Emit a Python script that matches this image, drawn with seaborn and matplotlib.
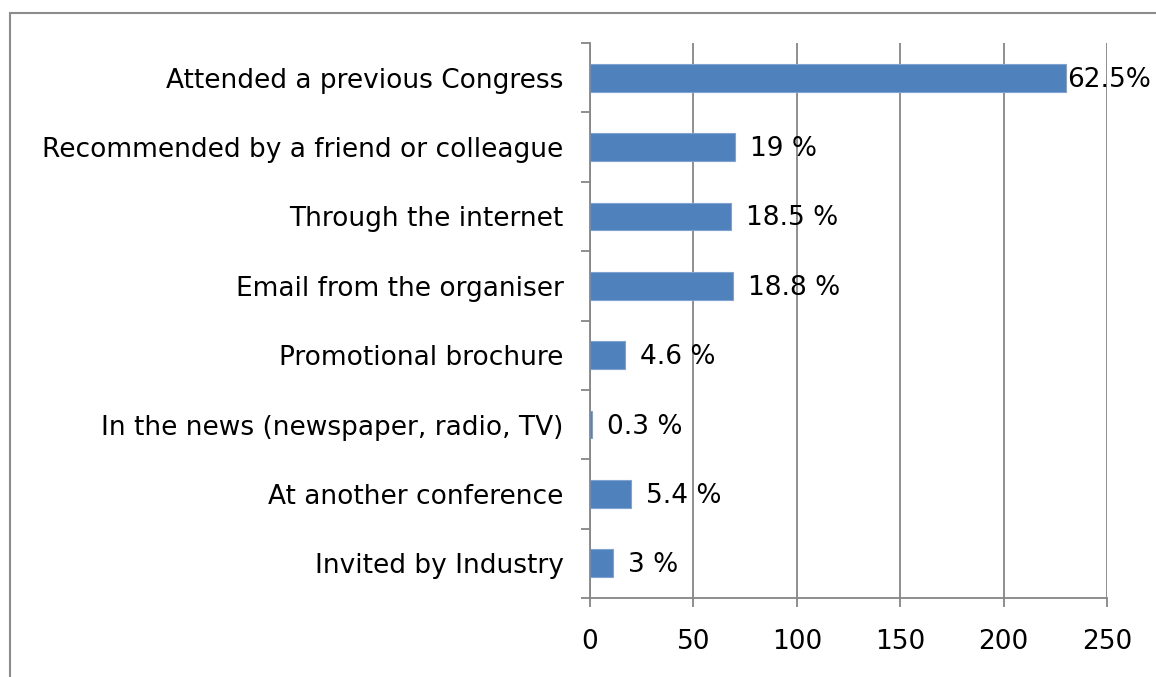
import numpy as np
import pandas as pd
import matplotlib.pyplot as plt
import matplotlib.patches as patches
import seaborn as sb

categorias = ["Attended a previous Congress",
              "Recommended by a friend or colleague",
              "Through the internet",
              "Email from the organiser",
              "Promotional brochure",
              "In the news (newspaper, radio, TV)",
              "At another conference",
              "Invited by Industry"]
valores = [230, 70, 68, 69, 17, 1, 20, 11]
etiquetas = ["62.5%", "19 %", "18.5 %", "18.8 %", "4.6 %", "0.3 %", "5.4 %", "3 %"]
ticks_x = [0, 50, 100, 150, 200, 250]

df = pd.DataFrame({"Origen": categorias, "Respuestas": valores})

sb.set_theme(style="white")
plt.rcParams['font.family'] = ['DejaVu Sans']

gris = "#868686"
fs = 19
fig = plt.figure(figsize=(11.56, 6.77), dpi=100)
ax = fig.add_axes([590/1156, 1 - 598/677, (1107 - 590)/1156, (598 - 43)/677])

sb.barplot(data=df, x="Respuestas", y="Origen", orient="h", width=0.4,
           color="#4F81BD", edgecolor="#7FA3D0", linewidth=0.8, saturation=1, ax=ax)

# etiquetas de datos (la primera va pegada a la barra, como en el original)
for i, (v, txt) in enumerate(zip(valores, etiquetas)):
    dx = 1 if i == 0 else 15
    ax.annotate(txt, (v, i), xytext=(dx, -2), textcoords="offset pixels",
                ha="left", va="center", fontsize=fs, color="black")

ax.set_xlim(0, 250)
ax.set_ylim(len(categorias) - 0.5, -0.5)
ax.set_xticks(ticks_x)
ax.xaxis.grid(True, color=gris, linewidth=1.3)
ax.set_axisbelow(True)
ax.set_xlabel("")
ax.set_ylabel("")

for s in ["top", "right"]:
    ax.spines[s].set_visible(False)
for s in ["left", "bottom"]:
    ax.spines[s].set_color(gris)
    ax.spines[s].set_linewidth(1.3)

ax.tick_params(axis="x", direction="out", length=6.5, width=1.3, color=gris,
               pad=16, labelsize=fs, labelcolor="black", bottom=True)
ax.tick_params(axis="y", which="major", length=0, pad=19, labelsize=fs, labelcolor="black")
ax.set_yticks(np.arange(-0.5, len(categorias), 1), minor=True)
ax.tick_params(axis="y", which="minor", direction="out", length=6.5, width=1.3, color=gris, left=True)

# marco del gráfico (recortado a la derecha y abajo)
marco = patches.Rectangle((10/1156, -0.1), 1.2, 1.1 - 13/677, transform=fig.transFigure,
                          fill=False, edgecolor="#8c8c8c", linewidth=1.5, clip_on=False)
fig.patches.append(marco)

plt.savefig("out.png", dpi=100)
